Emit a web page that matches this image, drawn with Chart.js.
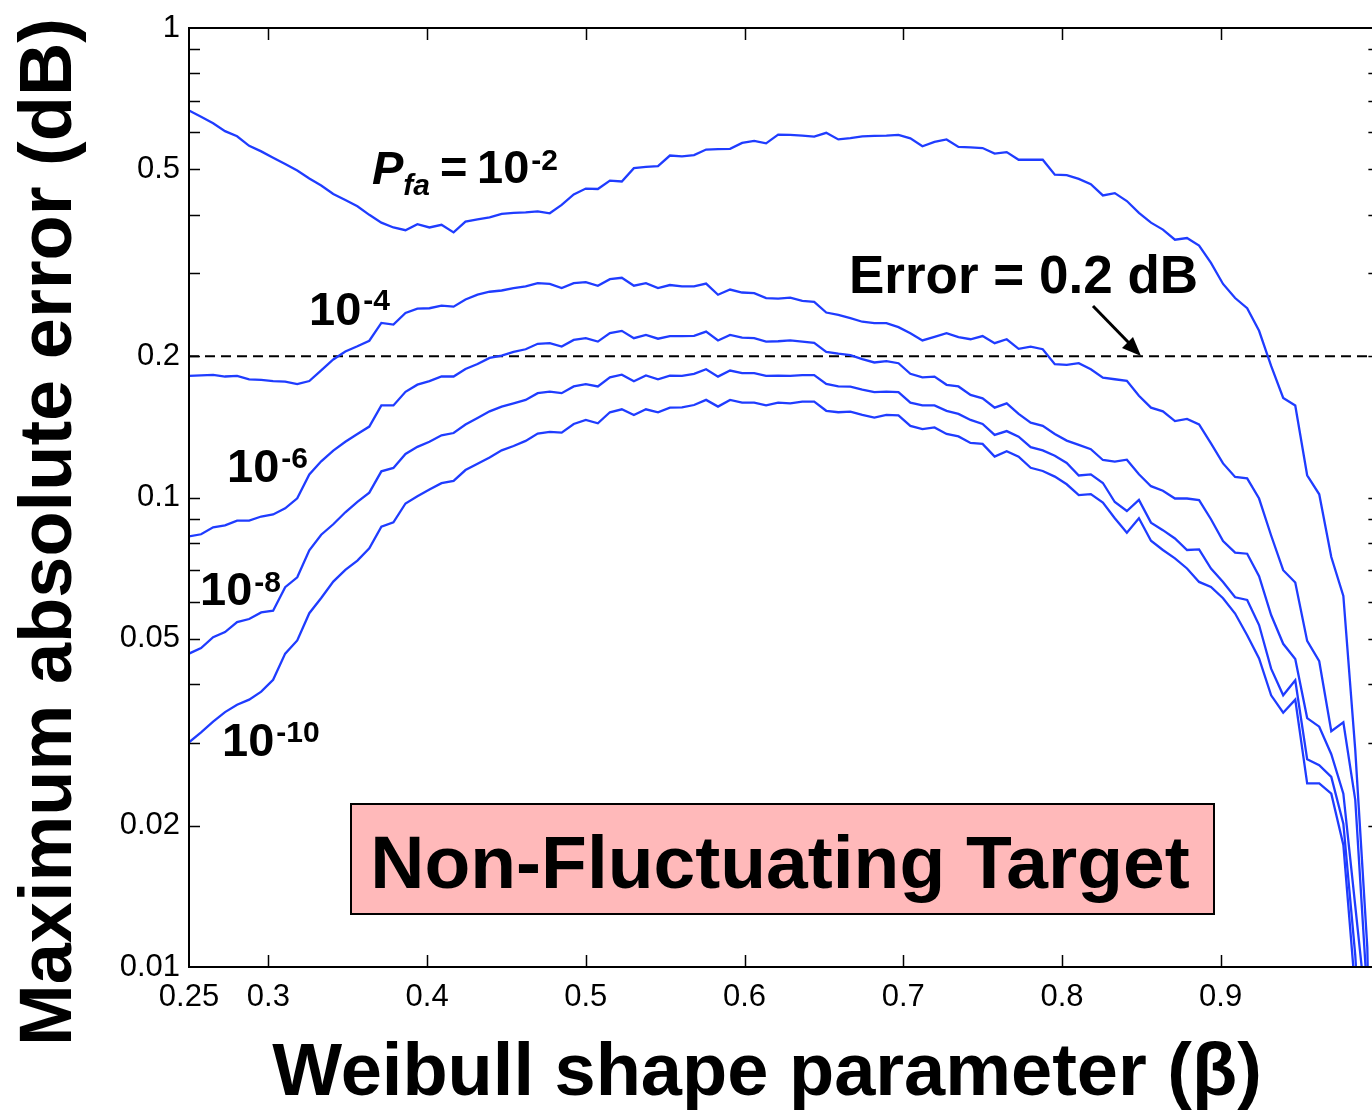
<!DOCTYPE html>
<html>
<head>
<meta charset="utf-8">
<title>Maximum absolute error - Non-Fluctuating Target</title>
<script src="https://cdn.jsdelivr.net/npm/chart.js@4.4.1/dist/chart.umd.min.js"></script>
<style>
  html, body { margin: 0; padding: 0; overflow: hidden; background: #fff; }
  #chart { position: absolute; left: 0; top: 0; }
</style>
</head>
<body>
<canvas id="chart" width="1400" height="1112"></canvas>
<script>
// Weibull shape parameter, 100 samples from 0.25 to 1
const beta = [
  0.25, 0.2576, 0.2652, 0.2727, 0.2803, 0.2879, 0.2955, 0.3030, 0.3106, 0.3182,
  0.3258, 0.3333, 0.3409, 0.3485, 0.3561, 0.3636, 0.3712, 0.3788, 0.3864, 0.3939,
  0.4015, 0.4091, 0.4167, 0.4242, 0.4318, 0.4394, 0.4470, 0.4545, 0.4621, 0.4697,
  0.4773, 0.4848, 0.4924, 0.5000, 0.5076, 0.5152, 0.5227, 0.5303, 0.5379, 0.5455,
  0.5530, 0.5606, 0.5682, 0.5758, 0.5833, 0.5909, 0.5985, 0.6061, 0.6136, 0.6212,
  0.6288, 0.6364, 0.6439, 0.6515, 0.6591, 0.6667, 0.6742, 0.6818, 0.6894, 0.6970,
  0.7045, 0.7121, 0.7197, 0.7273, 0.7348, 0.7424, 0.7500, 0.7576, 0.7652, 0.7727,
  0.7803, 0.7879, 0.7955, 0.8030, 0.8106, 0.8182, 0.8258, 0.8333, 0.8409, 0.8485,
  0.8561, 0.8636, 0.8712, 0.8788, 0.8864, 0.8939, 0.9015, 0.9091, 0.9167, 0.9242,
  0.9318, 0.9394, 0.9470, 0.9545, 0.9621, 0.9697, 0.9773, 0.9848, 0.9924, 1.0000
];

// max absolute error (dB) for each Pfa
const err2 = [
  0.667, 0.647, 0.627, 0.603, 0.588, 0.561, 0.546, 0.529, 0.513, 0.497,
  0.478, 0.462, 0.443, 0.430, 0.417, 0.400, 0.385, 0.376, 0.371, 0.382,
  0.376, 0.381, 0.367, 0.387, 0.391, 0.395, 0.402, 0.404, 0.405, 0.407,
  0.403, 0.420, 0.442, 0.455, 0.454, 0.473, 0.471, 0.503, 0.506, 0.508,
  0.535, 0.533, 0.536, 0.551, 0.552, 0.553, 0.569, 0.575, 0.568, 0.593,
  0.592, 0.590, 0.587, 0.598, 0.579, 0.583, 0.588, 0.589, 0.590, 0.592,
  0.582, 0.560, 0.572, 0.579, 0.558, 0.557, 0.555, 0.540, 0.544, 0.524,
  0.524, 0.524, 0.487, 0.486, 0.477, 0.465, 0.440, 0.445, 0.428, 0.404,
  0.385, 0.372, 0.354, 0.357, 0.344, 0.316, 0.285, 0.266, 0.253, 0.2265,
  0.1906, 0.163, 0.157, 0.1115, 0.1016, 0.0747, 0.0617, 0.029, 0.011, 0.0005
];
const err4 = [
  0.1816, 0.182, 0.1824, 0.181, 0.1816, 0.1785, 0.178, 0.177, 0.1765, 0.1744,
  0.177, 0.1866, 0.1968, 0.2047, 0.2099, 0.2157, 0.2354, 0.2335, 0.2472, 0.2525,
  0.253, 0.2562, 0.255, 0.2641, 0.2704, 0.2743, 0.276, 0.2793, 0.2815, 0.2862,
  0.285, 0.2793, 0.2862, 0.2876, 0.2825, 0.2918, 0.2938, 0.2825, 0.2862, 0.2793,
  0.2835, 0.2815, 0.2815, 0.2855, 0.2703, 0.2773, 0.2733, 0.2725, 0.2659, 0.2652,
  0.2665, 0.2624, 0.2610, 0.2477, 0.245, 0.241, 0.2368, 0.2351, 0.2351, 0.2306,
  0.2239, 0.2160, 0.2199, 0.2239, 0.2196, 0.2173, 0.2207, 0.2132, 0.2173, 0.2073,
  0.2096, 0.2069, 0.1923, 0.1917, 0.1932, 0.1876, 0.1800, 0.1786, 0.1772, 0.1647,
  0.1554, 0.1526, 0.1455, 0.1470, 0.1431, 0.1304, 0.1182, 0.1106, 0.1098, 0.0995,
  0.0830, 0.0700, 0.0659, 0.0495, 0.0448, 0.0318, 0.0332, 0.0227, 0.0087, 0.0004
];
const err6 = [
  0.0826, 0.0835, 0.0864, 0.0872, 0.0893, 0.0893, 0.0911, 0.0920, 0.0948, 0.0996,
  0.112, 0.1194, 0.1259, 0.1314, 0.1365, 0.1416, 0.1571, 0.1571, 0.1679, 0.1739,
  0.1770, 0.181, 0.181, 0.1878, 0.1924, 0.1983, 0.2005, 0.2042, 0.2069, 0.2125,
  0.2132, 0.2096, 0.2166, 0.2184, 0.2148, 0.2239, 0.2264, 0.2184, 0.2219, 0.2179,
  0.2207, 0.2207, 0.2210, 0.2256, 0.2160, 0.2219, 0.2190, 0.2184, 0.2148, 0.2152,
  0.2160, 0.2148, 0.2135, 0.2042, 0.2024, 0.201, 0.1971, 0.1939, 0.1952, 0.1932,
  0.1834, 0.1803, 0.1809, 0.1738, 0.1724, 0.1654, 0.1626, 0.1554, 0.1587, 0.1507,
  0.1444, 0.1421, 0.1366, 0.1322, 0.1295, 0.1267, 0.1202, 0.1193, 0.1204, 0.1121,
  0.1057, 0.1034, 0.0995, 0.0995, 0.0987, 0.0899, 0.0808, 0.0763, 0.0759, 0.0680,
  0.0562, 0.0488, 0.0453, 0.0339, 0.0325, 0.0284, 0.0234, 0.0135, 0.0077, 0.0003
];
const err8 = [
  0.0465, 0.0478, 0.0504, 0.0517, 0.0543, 0.0551, 0.0569, 0.0574, 0.0644, 0.0676,
  0.0772, 0.0833, 0.0877, 0.0930, 0.0979, 0.1024, 0.1137, 0.1156, 0.1238, 0.1282,
  0.1314, 0.1357, 0.1372, 0.1430, 0.1477, 0.1526, 0.1562, 0.1587, 0.1614, 0.1668,
  0.1681, 0.1668, 0.1724, 0.1744, 0.1724, 0.1803, 0.1826, 0.1768, 0.1820, 0.1786,
  0.1817, 0.1815, 0.1834, 0.1876, 0.1809, 0.1864, 0.1840, 0.1840, 0.1815, 0.1817,
  0.1815, 0.1823, 0.1823, 0.1746, 0.1724, 0.1722, 0.1697, 0.1676, 0.1681, 0.1676,
  0.1592, 0.1571, 0.1571, 0.1530, 0.1507, 0.1463, 0.1434, 0.1359, 0.1385, 0.1348,
  0.128, 0.126, 0.1227, 0.1185, 0.1114, 0.112, 0.1074, 0.0978, 0.0936, 0.0988,
  0.0884, 0.0852, 0.0818, 0.0773, 0.0775, 0.0706, 0.0661, 0.0613, 0.0605, 0.0535,
  0.0432, 0.0379, 0.0408, 0.0277, 0.0269, 0.0254, 0.0202, 0.0106, 0.004, 0.0002
];
const err10 = [
  0.0301, 0.0316, 0.0333, 0.0349, 0.0362, 0.0371, 0.0386, 0.0409, 0.0465, 0.0496,
  0.0567, 0.0611, 0.0662, 0.0701, 0.0734, 0.0779, 0.0867, 0.0885, 0.0971, 0.1006,
  0.1040, 0.1073, 0.1085, 0.1144, 0.1180, 0.1217, 0.1260, 0.1287, 0.1320, 0.1368,
  0.1379, 0.1375, 0.1434, 0.1463, 0.1439, 0.1519, 0.1541, 0.1499, 0.1541, 0.1519,
  0.1554, 0.1556, 0.1574, 0.1614, 0.1562, 0.1614, 0.1592, 0.1592, 0.1571, 0.1592,
  0.1587, 0.1600, 0.1600, 0.1530, 0.1519, 0.1524, 0.1499, 0.1480, 0.1499, 0.1496,
  0.1421, 0.1399, 0.1410, 0.1366, 0.1349, 0.1307, 0.1301, 0.1222, 0.1255, 0.1222,
  0.1157, 0.1139, 0.1108, 0.1067, 0.1012, 0.1017, 0.0975, 0.0903, 0.0841, 0.0903,
  0.0809, 0.0773, 0.0742, 0.0706, 0.0661, 0.0645, 0.0610, 0.0566, 0.0509, 0.0454,
  0.0379, 0.0348, 0.0371, 0.0246, 0.0246, 0.0234, 0.0182, 0.0089, 0.003, 0.0002
];

const errorLimit = 0.2;  // dB, dashed reference line

// axis ticks
const xTicks = [0.25, 0.3, 0.4, 0.5, 0.6, 0.7, 0.8, 0.9, 1];
const yTicks = [0.01, 0.02, 0.03, 0.04, 0.05, 0.06, 0.07, 0.08, 0.09,
                0.1, 0.2, 0.3, 0.4, 0.5, 0.6, 0.7, 0.8, 0.9, 1];
const yLabelled = [0.01, 0.02, 0.05, 0.1, 0.2, 0.5, 1];

// texts
const xTitle = 'Weibull shape parameter (\u03B2)';
const yTitle = 'Maximum absolute error (dB)';
const pfaExponents = ['-2', '-4', '-6', '-8', '-10'];
const limitText = 'Error = 0.2 dB';
const boxText = 'Non-Fluctuating Target';

const FONT = "'Liberation Sans', Arial, Helvetica, sans-serif";
const BLUE = '#1f3cff';

function toPoints(ys) {
  return beta.map((b, i) => ({ x: b, y: ys[i] }));
}

function curve(label, ys) {
  return {
    label: label,
    data: toPoints(ys),
    borderColor: BLUE,
    borderWidth: 2.3,
    pointRadius: 0,
    tension: 0,
    fill: false
  };
}

// draws "10" with a superscript exponent
function drawPower(ctx, x, base, exp, size, expSize, rise) {
  ctx.font = 'bold ' + size + 'px ' + FONT;
  ctx.fillText('10', x, base);
  const w = ctx.measureText('10').width;
  ctx.font = 'bold ' + expSize + 'px ' + FONT;
  ctx.fillText(exp, x + w + 2, base - rise);
}

// frame, inward ticks, titles and the text annotations
const overlay = {
  id: 'overlay',
  afterDatasetsDraw(chart) {
    const ctx = chart.ctx;
    const a = chart.chartArea;
    const xs = chart.scales.x;
    const ys = chart.scales.y;
    ctx.save();

    // axes box
    ctx.strokeStyle = '#000';
    ctx.lineWidth = 2;
    ctx.strokeRect(a.left, a.top, a.right - a.left, a.bottom - a.top);

    // tick marks pointing inwards
    ctx.lineWidth = 1.5;
    ctx.beginPath();
    yTicks.slice(1, -1).forEach(v => {
      const py = Math.round(ys.getPixelForValue(v)) + 0.5;
      ctx.moveTo(a.left, py); ctx.lineTo(a.left + 11, py);
      ctx.moveTo(a.right, py); ctx.lineTo(a.right - 11, py);
    });
    xTicks.slice(1, -1).forEach(v => {
      const px = Math.round(xs.getPixelForValue(v)) + 0.5;
      ctx.moveTo(px, a.bottom); ctx.lineTo(px, a.bottom - 12);
      ctx.moveTo(px, a.top); ctx.lineTo(px, a.top + 12);
    });
    ctx.stroke();

    ctx.fillStyle = '#000';
    ctx.textAlign = 'left';
    ctx.textBaseline = 'alphabetic';

    // P_fa = 10^-2
    ctx.font = 'italic bold 47px ' + FONT;
    ctx.fillText('P', 372, 184);
    const pw = ctx.measureText('P').width;
    ctx.font = 'italic bold 30px ' + FONT;
    ctx.fillText('fa', 372 + pw, 195);
    ctx.font = 'bold 47px ' + FONT;
    ctx.fillText('=', 440, 183);
    drawPower(ctx, 477, 183, pfaExponents[0], 47, 30, 13);

    // other Pfa labels
    drawPower(ctx, 309, 325, pfaExponents[1], 47, 30, 15);
    drawPower(ctx, 227, 482, pfaExponents[2], 47, 30, 14);
    drawPower(ctx, 200, 605, pfaExponents[3], 47, 30, 13);
    drawPower(ctx, 222, 756, pfaExponents[4], 47, 30, 14);

    // error limit note with arrow
    ctx.font = 'bold 53px ' + FONT;
    ctx.fillText(limitText, 849, 293);
    ctx.lineWidth = 3;
    ctx.beginPath();
    ctx.moveTo(1093, 306);
    ctx.lineTo(1130, 344);
    ctx.stroke();
    ctx.beginPath();
    ctx.moveTo(1141, 356);
    ctx.lineTo(1122, 348);
    ctx.lineTo(1133, 337);
    ctx.closePath();
    ctx.fill();

    // label box
    ctx.fillStyle = '#ffb9ba';
    ctx.fillRect(351, 804, 863, 110);
    ctx.strokeStyle = '#000';
    ctx.lineWidth = 2;
    ctx.strokeRect(351, 804, 863, 110);
    ctx.fillStyle = '#000';
    ctx.textAlign = 'center';
    ctx.font = 'bold 75px ' + FONT;
    ctx.fillText(boxText, 780, 888);

    // axis titles
    ctx.font = 'bold 74px ' + FONT;
    ctx.fillText(xTitle, 767, 1095);
    ctx.save();
    ctx.translate(71, 532);
    ctx.rotate(-Math.PI / 2);
    ctx.fillText(yTitle, 0, 0);
    ctx.restore();

    ctx.restore();
  }
};

const chart = new Chart(document.getElementById('chart'), {
  type: 'line',
  data: {
    datasets: [
      curve('Pfa = 1e-2', err2),
      curve('Pfa = 1e-4', err4),
      curve('Pfa = 1e-6', err6),
      curve('Pfa = 1e-8', err8),
      curve('Pfa = 1e-10', err10),
      {
        label: 'Error = 0.2 dB',
        data: [{ x: beta[0], y: errorLimit }, { x: beta[beta.length - 1], y: errorLimit }],
        borderColor: '#000',
        borderWidth: 2,
        borderDash: [10, 6],
        pointRadius: 0,
        fill: false
      }
    ]
  },
  options: {
    responsive: false,
    animation: false,
    layout: { padding: { left: 0, top: 28, right: 19, bottom: 0 } },
    plugins: {
      legend: { display: false },
      tooltip: { enabled: false },
      title: { display: false }
    },
    scales: {
      x: {
        type: 'linear',
        min: 0.25,
        max: 1,
        afterBuildTicks: s => { s.ticks = xTicks.map(v => ({ value: v })); },
        afterFit: s => { s.height = 145; },
        grid: { display: false, drawTicks: false },
        border: { display: false },
        ticks: {
          autoSkip: false,
          maxRotation: 0,
          padding: 12,
          color: '#000',
          font: { family: FONT, size: 31 },
          callback: v => String(v)
        }
      },
      y: {
        type: 'logarithmic',
        min: 0.01,
        max: 1,
        afterBuildTicks: s => { s.ticks = yTicks.map(v => ({ value: v })); },
        afterFit: s => { s.width = 189; },
        grid: { display: false, drawTicks: false },
        border: { display: false },
        ticks: {
          autoSkip: false,
          padding: 9,
          color: '#000',
          font: { family: FONT, size: 31 },
          callback: v => (yLabelled.includes(v) ? String(v) : '')
        }
      }
    }
  },
  plugins: [overlay]
});
</script>
</body>
</html>
